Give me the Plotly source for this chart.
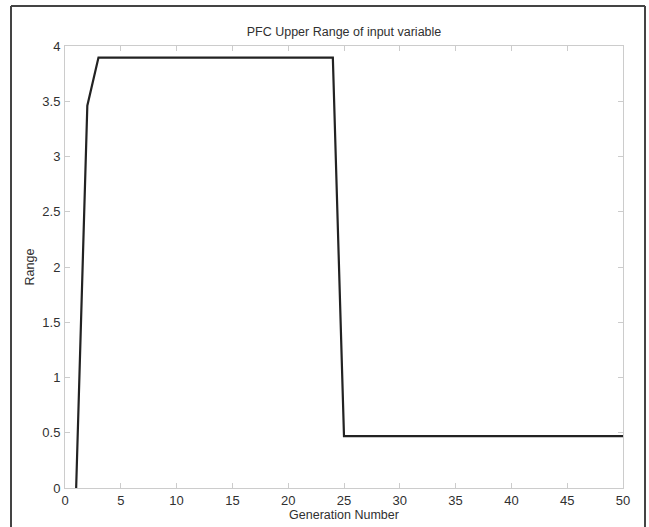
import plotly.graph_objects as go

generations = list(range(1, 51))
upper_range = [0.0, 3.46] + [3.895] * 22 + [0.47] * 26

x_ticks = list(range(0, 51, 5))
y_ticks = [0, 0.5, 1, 1.5, 2, 2.5, 3, 3.5, 4]
y_tick_text = ["0", "0.5", "1", "1.5", "2", "2.5", "3", "3.5", "4"]

fig = go.Figure()
fig.add_trace(go.Scatter(x=generations, y=upper_range, mode="lines",
                         line=dict(color="#222222", width=2.2), showlegend=False))

W, H = 649, 527
ml, mr, mt, mb = 65, 26, 46, 39
pw, ph = W - ml - mr, H - mt - mb

def px_x(p):
    return (p - ml) / pw

def px_y(p):
    return (H - mb - p) / ph

frame = dict(color="#444444", width=2)
fig.add_shape(type="line", xref="paper", yref="paper", x0=px_x(11), x1=px_x(11), y0=px_y(6), y1=px_y(540), line=frame)
fig.add_shape(type="line", xref="paper", yref="paper", x0=px_x(11), x1=px_x(645), y0=px_y(6), y1=px_y(6), line=frame)
fig.add_shape(type="line", xref="paper", yref="paper", x0=px_x(645), x1=px_x(645), y0=px_y(6), y1=px_y(540), line=frame)

axis_common = dict(showline=True, linecolor="#cccccc", linewidth=1, mirror="ticks",
                   ticks="inside", ticklen=5, tickcolor="#cccccc", showgrid=False,
                   zeroline=False, automargin=False,
                   tickfont=dict(family="Liberation Sans, Arial", size=13, color="#303030"))

fig.update_xaxes(range=[0, 50], tickvals=x_ticks, ticklabelstandoff=0,
                 title=dict(text="Generation Number", standoff=1,
                            font=dict(family="Liberation Sans, Arial", size=12.5, color="#303030")),
                 **axis_common)
fig.update_yaxes(range=[0, 4], tickvals=y_ticks, ticktext=y_tick_text, ticklabelstandoff=1,
                 title=dict(text="Range", standoff=4,
                            font=dict(family="Liberation Sans, Arial", size=12.5, color="#303030")),
                 **axis_common)

fig.update_layout(
    width=W, height=H,
    margin=dict(l=ml, r=mr, t=mt, b=mb),
    paper_bgcolor="white", plot_bgcolor="white",
    title=dict(text="PFC Upper Range of input variable", x=(ml + pw / 2) / W, xanchor="center",
               y=1 - 32 / H, yanchor="middle",
               font=dict(family="Liberation Sans, Arial", size=12.5, color="#303030")),
)

fig.write_html("out.html")
